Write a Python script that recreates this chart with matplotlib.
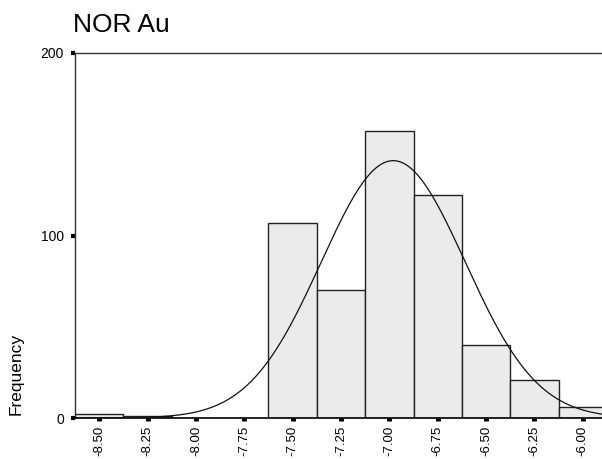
import numpy as np
import matplotlib
matplotlib.use("Agg")
import matplotlib.pyplot as plt

# histogram bins (centres) and counts
bin_centers = [-8.50, -8.25, -8.00, -7.75, -7.50, -7.25, -7.00, -6.75, -6.50, -6.25, -6.00]
counts = [2, 1, 0, 0, 107, 70, 157, 122, 40, 21, 6]
bin_width = 0.25

# normal curve parameters
curve_mean = -6.98
curve_sd = 0.372

tick_values = [-8.50, -8.25, -8.00, -7.75, -7.50, -7.25, -7.00, -6.75, -6.50, -6.25, -6.00]
tick_labels = ["-8.50", "-8.25", "-8.00", "-7.75", "-7.50", "-7.25", "-7.00",
               "-6.75", "-6.50", "-6.25", "-6.00"]

plt.rcParams['font.family'] = ['Liberation Sans', 'DejaVu Sans']

W, H = 602, 459
fig = plt.figure(figsize=(W / 100, H / 100), dpi=100)

# axes box in pixel coordinates (right edge runs just past the image)
left, right, top, bottom = 75, 607, 53, 418
ax = fig.add_axes([left / W, 1 - bottom / H, (right - left) / W, (bottom - top) / H])

ax.bar(bin_centers, counts, width=bin_width, color='#ebebeb', edgecolor='#222222',
       linewidth=1.0, zorder=2)

n = sum(counts)
xs = np.linspace(-8.625, -5.875, 400)
ys = n * bin_width / (curve_sd * np.sqrt(2 * np.pi)) * np.exp(-0.5 * ((xs - curve_mean) / curve_sd) ** 2)
ax.plot(xs, ys, color='#111111', linewidth=0.9, zorder=3)

ax.set_xlim(-8.625, -5.875)
ax.set_ylim(0, 200)
ax.set_yticks([0, 100, 200])
ax.set_yticklabels(["0", "100", "200"])
ax.set_xticks(tick_values)
ax.set_xticklabels(tick_labels, rotation=90)

ax.tick_params(axis='y', direction='out', length=3, width=3, color='black',
               labelsize=10, pad=5)
ax.tick_params(axis='x', direction='out', length=2.3, width=3.5, color='black',
               labelsize=9.5, pad=3)

for side in ['left', 'top']:
    ax.spines[side].set_color('#333333')
    ax.spines[side].set_linewidth(1.0)
ax.spines['bottom'].set_color('black')
ax.spines['bottom'].set_linewidth(1.2)
ax.spines['right'].set_visible(False)

fig.text(73 / W, 1 - 32 / H, "NOR Au", fontsize=19, ha='left', va='baseline')
fig.text(16 / W, 1 - 374 / H, "Frequency", fontsize=12.5, rotation=90,
         ha='center', va='center')

fig.savefig("out.png", dpi=100)
